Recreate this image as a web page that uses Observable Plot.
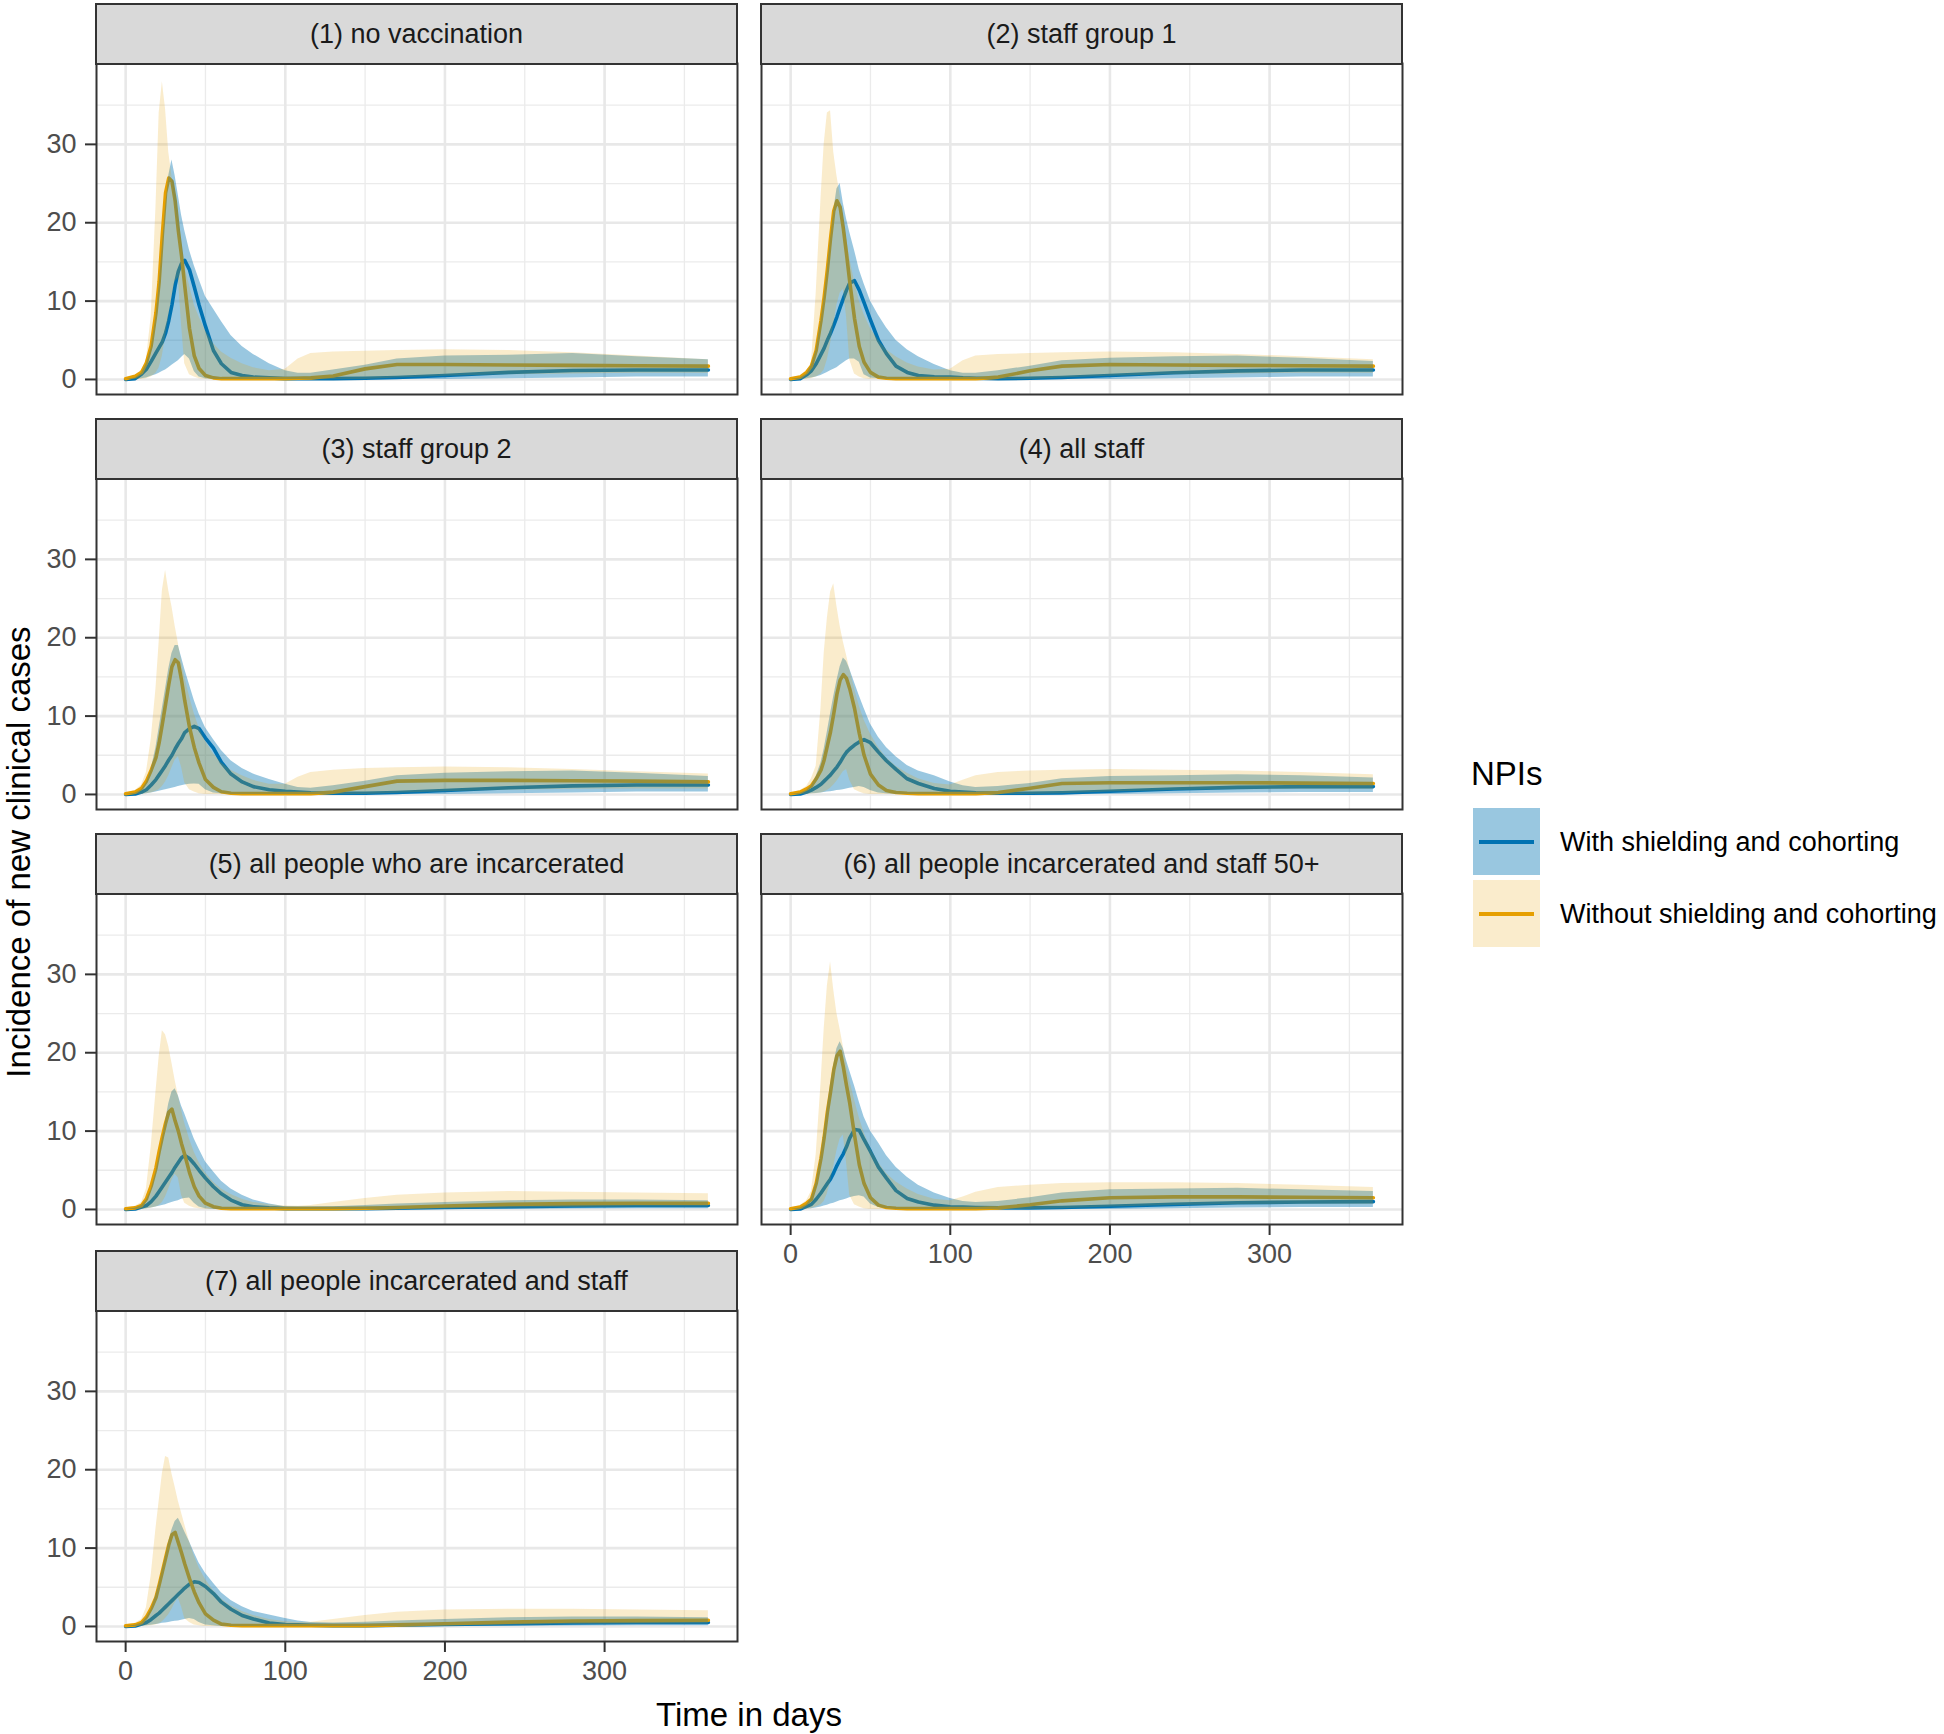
<!DOCTYPE html>
<html><head><meta charset="utf-8">
<script src="https://cdn.jsdelivr.net/npm/d3@7"></script>
<script src="https://cdn.jsdelivr.net/npm/@observablehq/plot@0.6"></script>
<style>
body{margin:0;background:#fff;font-family:"Liberation Sans",Arial,sans-serif;}
#root{position:relative;width:1944px;height:1734px;overflow:hidden;background:#fff;}
.strip{position:absolute;box-sizing:border-box;background:#d9d9d9;border:2px solid #333;color:#1a1a1a;font-size:27px;display:flex;align-items:center;justify-content:center;white-space:nowrap;}
.txt{position:absolute;white-space:nowrap;color:#000;}
.key{position:absolute;width:67px;height:67px;}
.key i{position:absolute;left:6px;top:32px;width:55px;height:3.5px;}
</style></head><body><div id="root"></div>
<script>
// ---- data ----
const days = [0,6,10,13,16,19,21,23,25,27,29,31,33,35,37,40,43,46,50,55,60,66,73,80,90,100,108,116,130,150,170,200,240,280,320,365];
const panelTitles = ["(1) no vaccination","(2) staff group 1","(3) staff group 2","(4) all staff","(5) all people who are incarcerated","(6) all people incarcerated and staff 50+","(7) all people incarcerated and staff"];
const seriesNames = ["With shielding and cohorting","Without shielding and cohorting"];
const xMajor = [0,100,200,300], xMinor = [50,150,250,350];
const yMajor = [0,10,20,30], yMinor = [5,15,25,35];

// With shielding and cohorting (blue): median, lower, upper
const withMedian = [
[0,0.1,0.7,1.3,2.3,3.4,4.1,4.8,5.9,7.5,9.5,12,13.8,14.8,15.2,14,11.8,9.5,6.8,3.7,2,0.9,0.5,0.3,0.2,0.1,0.1,0.1,0.1,0.15,0.25,0.5,0.9,1.15,1.2,1.2],
[0,0.1,0.6,1.1,2,3.2,4,5,5.9,6.9,8,9.2,10.3,11.4,12.3,12.6,11.4,9.8,7.6,5,3.3,1.7,0.9,0.5,0.35,0.3,0.2,0.15,0.1,0.15,0.25,0.5,0.85,1.1,1.2,1.2],
[0,0.05,0.3,0.6,1.2,1.9,2.5,3.1,3.7,4.4,5,5.8,6.5,7.1,7.9,8.4,8.7,8.4,7.2,5.9,4.1,2.6,1.6,1,0.6,0.4,0.3,0.2,0.15,0.15,0.25,0.5,0.85,1.1,1.2,1.2],
[0,0.05,0.3,0.55,0.9,1.3,1.7,2.1,2.5,3,3.5,4.1,4.8,5.4,5.8,6.3,6.7,7,6.6,5.4,4.3,3.2,2,1.4,0.75,0.4,0.3,0.2,0.15,0.15,0.2,0.4,0.7,0.9,1,1],
[0,0.05,0.3,0.5,1,1.7,2.3,2.9,3.5,4.1,4.7,5.4,6,6.6,6.9,6.5,5.8,5,4,2.9,2,1.2,0.6,0.35,0.2,0.1,0.1,0.1,0.1,0.1,0.15,0.25,0.35,0.45,0.5,0.5],
[0,0.05,0.4,0.65,1.3,2.1,2.7,3.3,3.9,4.7,5.6,6.4,7.1,8,9.1,10.2,10.1,8.9,7.4,5.4,4,2.4,1.4,0.95,0.55,0.35,0.3,0.25,0.2,0.2,0.25,0.4,0.65,0.85,0.95,1],
[0,0.05,0.3,0.5,0.9,1.4,1.7,2.1,2.5,2.9,3.3,3.7,4.1,4.5,4.9,5.4,5.7,5.6,5.1,4.2,3.1,2.2,1.4,0.95,0.45,0.25,0.2,0.15,0.1,0.1,0.15,0.25,0.35,0.45,0.5,0.5]
];
const withLower = [
[0,0,0.1,0.2,0.4,0.6,0.8,1,1.2,1.5,1.8,2.1,2.4,2.8,3.2,2.6,1,0.3,0.1,0,0,0,0,0,0,0,0,0,0,0,0,0,0.1,0.2,0.3,0.3],
[0,0,0.1,0.2,0.3,0.5,0.7,0.9,1.1,1.3,1.5,1.8,2.1,2.4,2.6,2.6,2.2,0.6,0.2,0.1,0,0,0,0,0,0,0,0,0,0,0,0,0.1,0.2,0.3,0.3],
[0,0,0.05,0.1,0.2,0.3,0.4,0.5,0.6,0.7,0.8,0.9,1,1.1,1.2,1.3,1.35,1.3,0.6,0.2,0.1,0,0,0,0,0,0,0,0,0,0,0,0.1,0.2,0.3,0.3],
[0,0,0.03,0.08,0.12,0.2,0.25,0.3,0.35,0.4,0.5,0.55,0.6,0.7,0.8,0.9,1,0.9,0.5,0.2,0.1,0,0,0,0,0,0,0,0,0,0,0,0.1,0.2,0.25,0.25],
[0,0,0.05,0.1,0.2,0.3,0.4,0.5,0.6,0.75,0.9,1,1.1,1.3,1.4,1.45,0.8,0.3,0.1,0,0,0,0,0,0,0,0,0,0,0,0,0,0,0.05,0.1,0.1],
[0,0,0.05,0.1,0.2,0.3,0.45,0.55,0.7,0.8,0.95,1.1,1.2,1.35,1.5,1.65,1.75,1.6,0.7,0.25,0.1,0,0,0,0,0,0,0,0,0,0,0,0.1,0.2,0.25,0.25],
[0,0,0.03,0.08,0.15,0.25,0.3,0.4,0.45,0.5,0.6,0.65,0.7,0.8,0.9,1,0.9,0.5,0.2,0.1,0,0,0,0,0,0,0,0,0,0,0,0,0,0.05,0.1,0.1]
];
const withUpper = [
[0,0.2,0.8,2,4,8,12,17,22,26,28,26,23.5,21,19,16.5,14.5,12.8,10.6,9,7.4,5.6,4.2,3.2,2,1.1,0.8,0.8,1.2,1.8,2.6,3,3.1,3.3,2.9,2.5],
[0,0.2,0.7,1.8,3.8,7.5,10.5,14,18,21.5,24.3,25,22.5,20.5,18.8,16.5,14,12.2,10,8.2,6.6,5,3.8,2.9,1.9,1.1,0.8,0.8,1.1,1.7,2.4,2.7,2.9,3,2.7,2.3],
[0,0.15,0.6,1.5,3.2,6,8.5,11,13.5,16,18,19,19,17.5,16,14,12,10.3,8.5,7,5.6,4.3,3.3,2.6,1.9,1.3,0.9,0.8,1.1,1.7,2.4,2.7,2.9,3,2.7,2.3],
[0,0.15,0.5,1.1,2.3,4,5.8,8,10.3,12.5,14.5,16.3,17.4,17,16,14.3,12.6,11,9,7.3,6,4.8,3.7,3,2.4,1.6,1.1,0.9,1,1.4,2,2.3,2.4,2.5,2.4,2.1],
[0,0.15,0.5,1.2,2.5,4.8,6.8,9,11.3,13.5,15,15.4,14.5,13.2,12.2,10.6,9,7.7,6.1,4.8,3.6,2.6,1.8,1.2,0.7,0.35,0.3,0.3,0.35,0.5,0.7,0.9,1.1,1.2,1.2,1.1],
[0,0.2,0.6,1.5,3.5,7,10,13,16,18.5,20.5,21.4,20.5,19,17.7,15.8,13.7,11.8,10,8.5,6.9,5.4,4.1,3.1,2.1,1.4,1,0.9,1,1.5,2.1,2.5,2.6,2.7,2.5,2.3],
[0,0.15,0.45,1.1,2.2,4,5.5,7.3,9,10.8,12.3,13.4,13.8,13,12.1,10.8,9.4,8.1,6.8,5.5,4.3,3.3,2.5,1.9,1.45,1,0.7,0.5,0.45,0.55,0.7,0.9,1.1,1.2,1.2,1.1]
];
// Without shielding and cohorting (orange): median, lower, upper
const withoutMedian = [
[0.1,0.4,0.9,2.1,4.3,8.5,12.5,18.5,23.8,25.7,25.3,22.8,19,15.8,12,6.5,3,1.4,0.5,0.2,0.1,0.1,0.1,0.1,0.1,0.1,0.15,0.2,0.45,1.35,1.9,1.9,1.85,1.8,1.75,1.7],
[0.1,0.3,0.9,1.7,3.7,7.5,10.5,14,18,21.5,22.8,22,19.3,16,12.5,7.8,4.2,2.2,0.9,0.3,0.15,0.1,0.1,0.1,0.1,0.1,0.1,0.1,0.3,1.1,1.7,1.9,1.85,1.8,1.75,1.7],
[0.1,0.3,0.8,1.7,3.1,4.7,6.6,9,11.5,14,16.3,17.2,16.8,14.6,12,8.6,6,4,1.9,0.9,0.35,0.15,0.1,0.1,0.1,0.1,0.1,0.1,0.3,1,1.7,1.8,1.8,1.75,1.7,1.6],
[0.1,0.3,0.7,1.1,2,3.1,4.4,6.2,8,10.3,12.8,14.6,15.3,14.8,13.5,11,7.8,5,2.6,1.2,0.5,0.25,0.15,0.1,0.1,0.1,0.1,0.1,0.25,0.8,1.4,1.5,1.5,1.5,1.45,1.4],
[0.1,0.2,0.5,1.35,3,5.3,7.4,9.3,11,12.4,12.8,11.3,10,8.4,7,4.7,2.9,1.7,0.8,0.35,0.15,0.1,0.1,0.1,0.1,0.1,0.1,0.1,0.1,0.15,0.25,0.45,0.65,0.75,0.8,0.8],
[0.1,0.3,0.8,1.3,3.3,6.5,9.2,12.4,15,17.8,19.6,20.2,18.2,15.8,13.6,9.5,5.7,3.3,1.5,0.55,0.25,0.15,0.1,0.1,0.1,0.1,0.1,0.1,0.2,0.6,1.1,1.5,1.6,1.6,1.55,1.5],
[0.1,0.2,0.5,1.2,2.3,3.7,5.3,7,8.7,10.4,11.7,12,10.7,9.4,8,6.1,4.4,3,1.6,0.8,0.3,0.15,0.1,0.1,0.1,0.1,0.1,0.1,0.1,0.1,0.2,0.35,0.55,0.7,0.75,0.8]
];
const withoutLower = [
[0,0,0,0.1,0.3,0.8,1.5,3,5.5,8,10.5,12.5,13,7,2,0.6,0.3,0.1,0,0,0,0,0,0,0,0,0,0,0,0,0.2,0.4,0.6,0.7,0.8,0.8],
[0,0,0,0.1,0.3,0.7,1.2,2.5,4.5,7,9.5,11,11.5,8,2.5,0.7,0.3,0.1,0,0,0,0,0,0,0,0,0,0,0,0,0.2,0.4,0.6,0.7,0.8,0.8],
[0,0,0,0.1,0.2,0.4,0.6,1,1.6,2.4,3.4,4.4,4.8,3.5,1.5,0.6,0.3,0.1,0,0,0,0,0,0,0,0,0,0,0,0,0.15,0.35,0.55,0.65,0.7,0.7],
[0,0,0,0.05,0.1,0.2,0.3,0.5,0.8,1.2,1.7,2.3,2.9,3.2,1.8,0.6,0.3,0.1,0,0,0,0,0,0,0,0,0,0,0,0,0.1,0.3,0.5,0.6,0.65,0.65],
[0,0,0,0.05,0.15,0.3,0.5,0.9,1.6,2.6,3.7,4.5,4,1.8,0.8,0.4,0.2,0.1,0,0,0,0,0,0,0,0,0,0,0,0,0,0.05,0.15,0.25,0.3,0.3],
[0,0,0,0.1,0.3,0.6,1,2,3.5,5.5,7.5,9,9.5,6,1.8,0.6,0.3,0.1,0,0,0,0,0,0,0,0,0,0,0,0,0.1,0.3,0.5,0.6,0.65,0.65],
[0,0,0,0.05,0.1,0.2,0.35,0.6,1,1.5,2.2,3,3.6,2.5,1,0.5,0.2,0.1,0,0,0,0,0,0,0,0,0,0,0,0,0,0.05,0.15,0.25,0.3,0.3]
];
const withoutUpper = [
[0.2,0.5,1.2,2.5,8,22,34,38,34.5,29,26,22.5,19.5,17,14.5,12,9.5,8,6.2,4.6,3.5,2.7,2,1.5,1.1,1.3,2.6,3.3,3.5,3.6,3.7,3.8,3.7,3.4,3.0,2.5],
[0.2,0.5,1.1,2,11,23,30,34,34.3,29,26,23.5,20.5,18,15.5,12.5,10,8.3,6.5,5,3.8,2.9,2.1,1.6,1.2,1.3,2.4,3,3.2,3.3,3.4,3.5,3.4,3.2,2.9,2.5],
[0.2,0.5,1.2,2.8,7,13.5,19.5,26,28.6,26,24,21.5,19.3,17,15,12.5,10.3,8.5,6.8,5.2,4,3.1,2.4,1.8,1.3,1.3,2.2,2.8,3.1,3.3,3.4,3.5,3.4,3.2,2.9,2.6],
[0.2,0.5,1,2,3.6,11,18,22.5,25.8,26.9,24,21.5,19.5,17.8,16,13.5,11.3,9.5,7.7,6,4.7,3.6,2.7,2,1.4,1.2,1.8,2.4,2.8,3,3.1,3.2,3.1,3,2.8,2.5],
[0.2,0.4,0.9,2.6,8,15,19.5,22.8,22.3,20.8,18.7,16.5,14.5,12.7,11,9,7.3,6,4.7,3.5,2.6,1.9,1.3,0.9,0.6,0.45,0.4,0.5,0.9,1.4,1.8,2.1,2.3,2.2,2.1,2.0],
[0.2,0.5,1.1,2.3,7,16,23,28.5,31.6,28,25,23,20.8,18.5,16.5,14,11.7,9.8,7.8,6,4.6,3.5,2.6,1.9,1.3,1.1,1.6,2.2,2.8,3.1,3.3,3.4,3.4,3.3,3.1,2.8],
[0.2,0.4,0.9,2.4,6.5,12.5,16,19.5,21.7,21.5,19.5,17.8,16,14.5,13,10.8,9,7.5,6,4.6,3.5,2.6,1.9,1.4,0.9,0.6,0.5,0.55,0.9,1.4,1.8,2.1,2.2,2.2,2.1,2.0]
];

// sanity check on array lengths
[["withMedian",withMedian],["withLower",withLower],["withUpper",withUpper],["withoutMedian",withoutMedian],["withoutLower",withoutLower],["withoutUpper",withoutUpper]].forEach(([n,a]) => a.forEach((r,i) => { if (r.length !== days.length) throw new Error(n + " panel " + (i+1) + " length " + r.length); }));

// ---- styling / layout ----
const blue = "#0072B2", orange = "#E69F00";
const xDomain = [-18.25, 383.25], yDomain = [-1.92, 40.32];
const colLeft = [96, 761], stripTop = [3, 418, 833, 1250];
const PW = 641, PH = 331, SH = 60;
const root = document.getElementById("root");
const font = '"Liberation Sans", Arial, sans-serif';

panelTitles.forEach((title, i) => {
  const col = i % 2, row = Math.floor(i / 2);
  const hasX = (i === 5 || i === 6), hasY = col === 0;
  const mL = hasY ? 96 : 2, mR = 2, mT = 2, mB = hasX ? 60 : 2;
  const rows = days.map((d, j) => ({
    day: d,
    wm: withMedian[i][j], wl: withLower[i][j], wh: withUpper[i][j],
    om: withoutMedian[i][j], ol: withoutLower[i][j], oh: withoutUpper[i][j]
  }));
  const marks = [
    Plot.ruleX(xMinor, {stroke: "#ebebeb", strokeWidth: 1.3}),
    Plot.ruleY(yMinor, {stroke: "#ebebeb", strokeWidth: 1.3}),
    Plot.ruleX(xMajor, {stroke: "#e8e8e8", strokeWidth: 2.6}),
    Plot.ruleY(yMajor, {stroke: "#e8e8e8", strokeWidth: 2.6}),
    Plot.line(rows, {x: "day", y: "wm", stroke: blue, strokeWidth: 3.6}),
    Plot.line(rows, {x: "day", y: "om", stroke: orange, strokeWidth: 3.6}),
    Plot.areaY(rows, {x: "day", y1: "wl", y2: "wh", fill: blue, fillOpacity: 0.4}),
    Plot.areaY(rows, {x: "day", y1: "ol", y2: "oh", fill: orange, fillOpacity: 0.2}),
    Plot.frame({stroke: "#333", strokeWidth: 2})
  ];
  if (hasY) marks.push(Plot.axisY(yMajor, {anchor: "left", tickSize: 11, tickPadding: 9, stroke: "#333", strokeWidth: 2, fill: "#4d4d4d", label: null}));
  if (hasX) marks.push(Plot.axisX(xMajor, {anchor: "bottom", tickSize: 11, tickPadding: 8, stroke: "#333", strokeWidth: 2, fill: "#4d4d4d", label: null}));
  const chart = Plot.plot({
    width: PW + mL + mR, height: PH + mT + mB,
    marginLeft: mL, marginRight: mR, marginTop: mT, marginBottom: mB,
    x: {domain: xDomain, axis: null},
    y: {domain: yDomain, axis: null},
    style: {fontFamily: font, fontSize: "27px", background: "transparent", overflow: "visible", maxWidth: "none"},
    marks
  });
  chart.style.position = "absolute";
  chart.style.left = (colLeft[col] - mL) + "px";
  chart.style.top = (stripTop[row] + SH - mT) + "px";
  root.appendChild(chart);
  const strip = document.createElement("div");
  strip.className = "strip";
  strip.style.left = (colLeft[col] - 1) + "px";
  strip.style.top = stripTop[row] + "px";
  strip.style.width = (PW + 2) + "px";
  strip.style.height = (SH + 2) + "px";
  strip.textContent = title;
  root.appendChild(strip);
});

function addText(txt, left, top, size, extra) {
  const d = document.createElement("div");
  d.className = "txt";
  d.textContent = txt;
  d.style.left = left + "px"; d.style.top = top + "px";
  d.style.fontSize = size + "px";
  Object.assign(d.style, extra || {});
  root.appendChild(d);
  return d;
}
// axis titles
addText("Time in days", 549, 1695, 33, {width: "400px", textAlign: "center", lineHeight: "40px"});
addText("Incidence of new clinical cases", 19 - 300, 852 - 20, 33, {width: "600px", height: "40px", textAlign: "center", lineHeight: "40px", transform: "rotate(-90deg)"});
// legend
addText("NPIs", 1471, 754, 33, {lineHeight: "40px"});
const keyFill = ["rgba(0,114,178,0.4)", "rgba(230,159,0,0.2)"];
const keyLine = [blue, orange];
const keyTop = [808, 880];
seriesNames.forEach((name, k) => {
  const key = document.createElement("div");
  key.className = "key";
  key.style.left = "1473px"; key.style.top = keyTop[k] + "px";
  key.style.background = keyFill[k];
  const ln = document.createElement("i");
  ln.style.background = keyLine[k];
  key.appendChild(ln);
  root.appendChild(key);
  addText(name, 1560, keyTop[k] + 33.5 - 17, 27, {lineHeight: "34px"});
});
</script>
</body></html>
